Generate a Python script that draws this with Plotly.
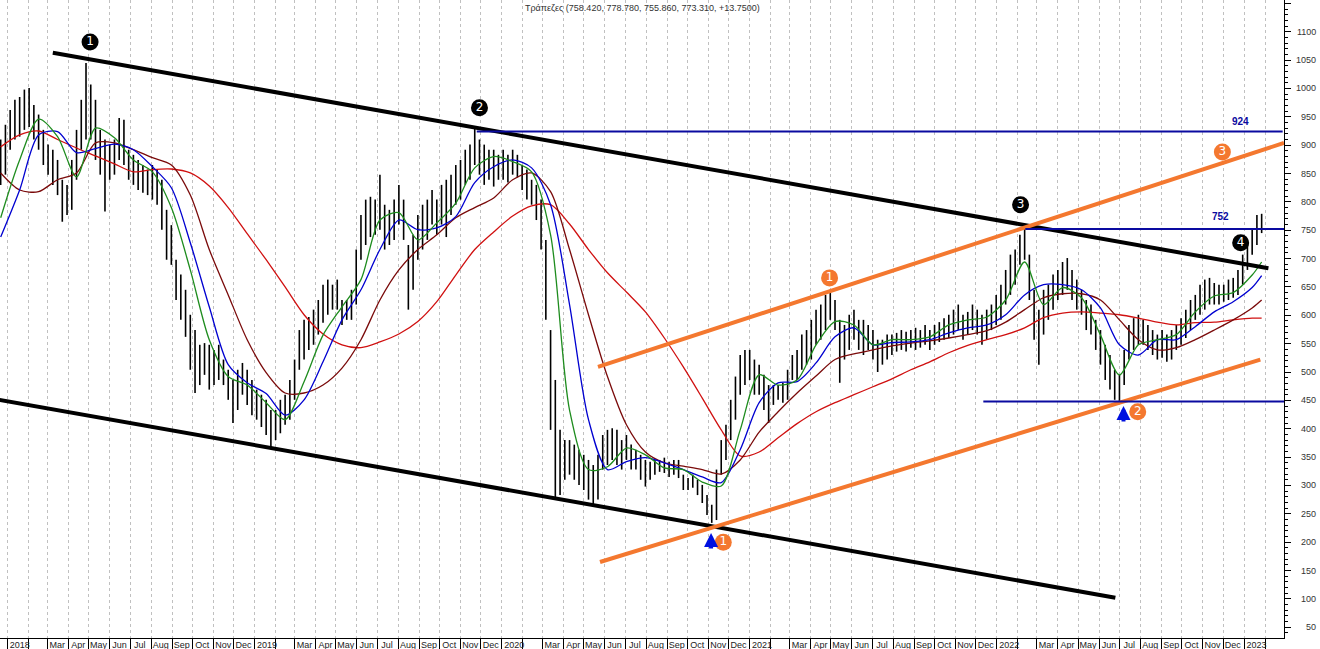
import pandas as pd
import plotly.graph_objects as go

# ---------------- data ----------------
week_dates = pd.date_range("2017-12-22", periods=267, freq="7D")

week_high = [
    910, 936, 962, 980, 985, 998, 1001, 971, 954, 927,
    901, 892, 874, 839, 830, 874, 927, 980, 1045, 1007,
    980, 927, 910, 901, 910, 948, 945, 892, 883, 874,
    865, 857, 865, 857, 839, 786, 759, 698, 672, 645,
    601, 574, 548, 551, 548, 539, 548, 522, 504, 486,
    504, 516, 504, 486, 469, 460, 451, 433, 433, 451,
    460, 486, 522, 574, 592, 597, 610, 627, 654, 663,
    654, 663, 627, 627, 645, 716, 777, 804, 809, 804,
    848, 795, 786, 804, 830, 804, 724, 742, 777, 795,
    804, 821, 804, 830, 839, 848, 865, 874, 892, 901,
    930, 910, 901, 892, 892, 883, 892, 883, 892, 883,
    865, 857, 839, 830, 804, 733, 574, 486, 398, 380,
    380, 372, 363, 354, 345, 336, 354, 389, 398, 401,
    398, 380, 389, 372, 363, 354, 345, 342, 345, 345,
    349, 342, 345, 345, 319, 313, 319, 310, 301, 283,
    266, 328, 380, 407, 451, 492, 530, 539, 539, 522,
    513, 495, 477, 477, 477, 481, 504, 530, 539, 566,
    574, 592, 610, 619, 636, 645, 627, 592, 583, 601,
    610, 592, 592, 583, 574, 557, 557, 566, 566, 569,
    574, 571, 574, 578, 574, 583, 574, 583, 588, 595,
    601, 610, 619, 601, 606, 619, 610, 601, 610, 619,
    636, 654, 680, 707, 716, 742, 754, 707, 645, 610,
    645, 654, 672, 680, 694, 701, 680, 663, 645, 627,
    619, 592, 574, 548, 530, 504, 495, 539, 583, 595,
    601, 592, 583, 574, 566, 574, 566, 574, 583, 595,
    610, 627, 636, 654, 663, 666, 657, 654, 654, 663,
    666, 680, 707, 733, 754, 777, 779,
]
week_low = [
    830, 848, 892, 910, 915, 927, 932, 910, 892, 865,
    848, 830, 812, 765, 777, 786, 839, 892, 910, 910,
    874, 848, 783, 839, 848, 874, 865, 839, 830, 821,
    816, 812, 804, 795, 751, 698, 689, 627, 592, 562,
    504, 463, 477, 495, 469, 477, 486, 477, 451, 410,
    433, 460, 442, 424, 416, 403, 389, 368, 380, 392,
    407, 416, 451, 504, 522, 539, 548, 566, 587, 601,
    610, 610, 583, 592, 592, 619, 698, 724, 738, 742,
    751, 716, 724, 733, 760, 733, 610, 645, 698, 716,
    733, 760, 742, 760, 738, 777, 795, 804, 830, 839,
    865, 848, 830, 839, 827, 839, 839, 834, 848, 843,
    821, 804, 795, 768, 716, 592, 398, 275, 283, 310,
    319, 310, 301, 292, 275, 262, 275, 328, 336, 345,
    336, 328, 345, 328, 328, 310, 298, 310, 319, 324,
    322, 315, 319, 313, 292, 292, 296, 283, 269, 248,
    234, 239, 319, 345, 380, 416, 460, 477, 486, 460,
    460, 433, 410, 442, 451, 446, 451, 486, 486, 504,
    513, 522, 548, 557, 574, 592, 574, 481, 522, 539,
    557, 539, 530, 539, 522, 500, 513, 522, 530, 536,
    539, 536, 543, 539, 543, 548, 539, 548, 553, 557,
    560, 566, 574, 557, 566, 574, 566, 548, 557, 574,
    583, 592, 619, 636, 654, 689, 698, 627, 557, 513,
    566, 592, 610, 627, 636, 645, 627, 610, 601, 574,
    566, 539, 513, 486, 469, 451, 444, 477, 522, 539,
    548, 548, 539, 530, 522, 525, 518, 522, 539, 548,
    560, 574, 592, 601, 610, 619, 619, 619, 624, 627,
    631, 636, 654, 680, 707, 724, 745,
]

# moving averages sampled every 4 weeks (plus last week)
ma_dates = list(week_dates[::4]) + [week_dates[-1]]
ma_green = [
    772, 874, 946, 915, 844, 930, 913, 874, 853, 790,
    680, 557, 492, 477, 446, 416, 483, 565, 615, 663,
    768, 781, 733, 763, 798, 860, 880, 871, 853, 742,
    433, 328, 333, 366, 354, 331, 328, 306, 299, 398,
    495, 477, 486, 548, 589, 583, 548, 557, 557, 562,
    583, 592, 597, 627, 694, 619, 649, 631, 565, 495,
    548, 557, 566, 606, 634, 640, 671, 694,
]
ma_blue = [
    738, 821, 918, 924, 887, 894, 902, 892, 862, 825,
    728, 615, 513, 481, 462, 424, 451, 518, 592, 645,
    716, 768, 751, 754, 774, 834, 862, 874, 860, 795,
    619, 416, 328, 342, 349, 340, 328, 315, 305, 363,
    446, 481, 483, 516, 562, 578, 548, 552, 553, 557,
    569, 578, 583, 601, 636, 654, 654, 645, 613, 548,
    530, 557, 557, 580, 606, 624, 649, 670,
]
ma_brown = [
    851, 821, 818, 839, 851, 904, 904, 892, 878, 865,
    812, 716, 636, 557, 499, 463, 463, 477, 507, 557,
    627, 680, 716, 742, 772, 790, 807, 839, 851, 818,
    716, 601, 492, 407, 359, 340, 334, 328, 320, 345,
    394, 430, 463, 493, 522, 532, 539, 546, 551, 555,
    560, 566, 573, 588, 610, 631, 638, 638, 627, 592,
    557, 539, 543, 557, 574, 592, 613, 627,
]
ma_red = [
    897, 918, 925, 910, 895, 881, 867, 853, 857, 858,
    851, 828, 790, 744, 698, 650, 601, 567, 548, 543,
    553, 567, 589, 624, 671, 716, 747, 775, 793, 795,
    761, 716, 675, 641, 606, 560, 509, 454, 398, 352,
    359, 384, 409, 430, 446, 460, 474, 488, 504, 518,
    534, 547, 557, 566, 578, 596, 604, 606, 604, 601,
    595, 588, 583, 587, 588, 592, 595, 595,
]

# trend lines (date, value end points)
black_upper_d = ["2018-03-09", "2023-02-06"]
black_upper_v = [1063, 683]
black_lower_d = ["2017-12-20", "2022-06-25"]
black_lower_v = [451, 102]
orange_upper_d = ["2020-05-22", "2023-03-01"]
orange_upper_v = [509, 904]
orange_lower_d = ["2020-05-25", "2023-01-25"]
orange_lower_v = [165, 522]
level_924_d = ["2019-11-25", "2023-02-27"]
level_752_d = ["2022-02-12", "2023-03-01"]
level_448_d = ["2021-12-12", "2023-03-01"]

# numbered points
black_pts_d = ["2018-05-03", "2019-11-29", "2022-02-05", "2022-12-27"]
black_pts_v = [1082, 966, 795, 728]
black_pts_t = ["1", "2", "3", "4"]
orange_pts_d = ["2021-04-29", "2022-11-30", "2020-11-23", "2022-07-28"]
orange_pts_v = [666, 888, 200, 430]
orange_pts_t = ["1", "3", "1", "2"]
arrow_d = ["2020-11-05", "2022-07-07"]
arrow_v = [216, 440]

title_text = "Τράπεζες (758.420, 778.780, 755.860, 773.310, +13.7500)"
month_abbr = ["Jan", "", "Mar", "Apr", "May", "Jun", "Jul", "Aug", "Sep", "Oct", "Nov", "Dec"]
month_ticks = pd.date_range("2017-12-01", "2023-02-01", freq="MS")
y_tick_labels = list(range(50, 1101, 50))
y_tick_marks = list(range(50, 1151, 50))

FONT = "Liberation Sans, Arial, sans-serif"
ORANGE = "#F4782F"
NAVY = "#0A0AA0"
X_RANGE = ["2017-12-21", "2023-03-01"]

fig = go.Figure()

# price bars (high-low)
bx, by = [], []
for d, h, l in zip(week_dates, week_high, week_low):
    bx += [d, d, None]
    by += [l, h, None]
fig.add_trace(go.Scatter(x=bx, y=by, mode="lines", line=dict(color="#000000", width=1.6),
                         hoverinfo="skip", showlegend=False))

for vals, col in [(ma_red, "#D01010"), (ma_brown, "#7A0A0A"), (ma_blue, "#0000D0"), (ma_green, "#1E8C1E")]:
    fig.add_trace(go.Scatter(x=ma_dates, y=vals, mode="lines",
                             line=dict(color=col, width=1.3, shape="spline", smoothing=0.8),
                             hoverinfo="skip", showlegend=False))

# trend lines
for d, v, col, w in [
    (black_upper_d, black_upper_v, "#000000", 4),
    (black_lower_d, black_lower_v, "#000000", 4),
    (orange_upper_d, orange_upper_v, ORANGE, 4),
    (orange_lower_d, orange_lower_v, ORANGE, 4),
    (level_924_d, [924, 924], NAVY, 2),
    (level_752_d, [752, 752], NAVY, 2),
    (level_448_d, [448, 448], NAVY, 2),
]:
    fig.add_trace(go.Scatter(x=d, y=v, mode="lines", line=dict(color=col, width=w),
                             hoverinfo="skip", showlegend=False))

# numbered markers
fig.add_trace(go.Scatter(x=black_pts_d, y=black_pts_v, mode="markers+text", text=black_pts_t,
                         marker=dict(size=17, color="#000000"),
                         textfont=dict(color="white", size=12, family="DejaVu Sans"),
                         textposition="middle center", hoverinfo="skip", showlegend=False))
fig.add_trace(go.Scatter(x=orange_pts_d, y=orange_pts_v, mode="markers+text", text=orange_pts_t,
                         marker=dict(size=17, color=ORANGE),
                         textfont=dict(color="white", size=12, family="DejaVu Sans"),
                         textposition="middle center", hoverinfo="skip", showlegend=False))

# month labels on an overlaid axis (labels sit just right of each month separator)
lab_pos, lab_txt = [], []
for m in month_ticks:
    lbl = str(m.year) if m.month == 1 else month_abbr[m.month - 1]
    if not lbl:
        continue
    lab_pos.append(m + pd.Timedelta(days=(2 + 2.6 * len(lbl)) / 0.677))
    lab_txt.append(lbl)
fig.add_trace(go.Scatter(x=[lab_pos[1]], y=[0], xaxis="x2", mode="markers",
                         marker=dict(opacity=0), hoverinfo="skip", showlegend=False))

annotations = []
for d, v in zip(arrow_d, arrow_v):
    annotations.append(dict(x=d, y=v, xref="x", yref="y", text="", showarrow=True,
                            ax=0, ay=17, arrowcolor="#0010E0", arrowwidth=4,
                            arrowhead=2, arrowsize=0.7))

annotations.append(dict(x="2022-12-27", y=941, xref="x", yref="y", text="<b>924</b>",
                        showarrow=False, font=dict(color=NAVY, size=10, family=FONT)))
annotations.append(dict(x="2022-11-27", y=775, xref="x", yref="y", text="<b>752</b>",
                        showarrow=False, font=dict(color=NAVY, size=10, family=FONT)))

annotations.append(dict(x=0.5, y=1, xref="paper", yref="paper", yanchor="top", yshift=-1,
                        text=title_text, showarrow=False,
                        font=dict(color="#333333", size=9, family=FONT)))

# right-aligned y tick labels
for t in y_tick_labels:
    annotations.append(dict(x=1, y=t, xref="paper", yref="y", xanchor="right", xshift=34,
                            text=str(t), showarrow=False,
                            font=dict(color="#333333", size=9, family=FONT)))

fig.update_layout(
    width=1320, height=649,
    margin=dict(l=0, r=36, t=0, b=11),
    paper_bgcolor="white", plot_bgcolor="white",
    showlegend=False,
    annotations=annotations,
    xaxis=dict(
        type="date", range=X_RANGE,
        tickmode="array", tickvals=list(month_ticks), showticklabels=False,
        ticks="outside", ticklen=11, tickcolor="#000000", tickwidth=1,
        showgrid=True, gridcolor="#C0C0C0", griddash="3px,3px", gridwidth=1,
        showline=True, linecolor="#000000", linewidth=1, zeroline=False,
    ),
    xaxis2=dict(
        type="date", range=X_RANGE, overlaying="x", anchor="y", side="bottom",
        tickmode="array", tickvals=lab_pos, ticktext=lab_txt, ticks="",
        showgrid=False, showline=False, zeroline=False,
        tickfont=dict(color="#222222", size=9, family=FONT), ticklabelstandoff=0,
    ),
    yaxis=dict(
        side="right", range=[31, 1156],
        tickmode="array", tickvals=y_tick_marks, showticklabels=False,
        ticks="outside", ticklen=6, tickcolor="#000000",
        minor=dict(dtick=10, tick0=0, ticks="outside", ticklen=3, tickcolor="#000000", showgrid=False),
        showgrid=False, zeroline=False,
        showline=True, linecolor="#000000", linewidth=1,
    ),
)

fig.write_html("out.html", config={"displayModeBar": False},
               post_script="document.body.style.margin='0px';document.body.style.padding='0px';")
